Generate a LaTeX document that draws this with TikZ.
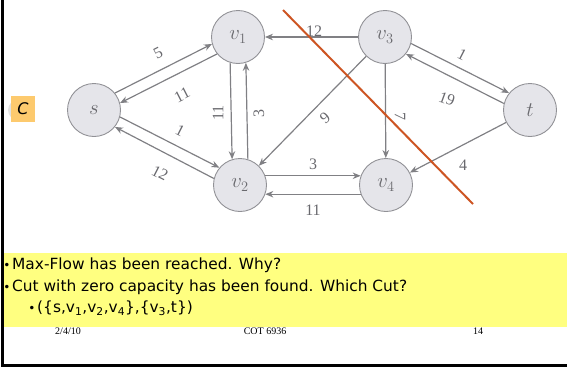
\documentclass[tikz,border=0pt]{standalone}
\usepackage{fontspec}
\setmainfont{Liberation Serif}
\newfontfamily\slidefont{DejaVu Sans}
\usetikzlibrary{arrows.meta}

\definecolor{nodefill}{RGB}{229,229,234}
\definecolor{nodeline}{RGB}{145,145,150}
\definecolor{edgegray}{RGB}{128,128,132}
\definecolor{labelgray}{RGB}{105,105,110}
\definecolor{cutred}{RGB}{205,85,35}
\definecolor{bandyellow}{RGB}{255,255,128}
\definecolor{tagorange}{RGB}{253,202,110}

\tikzset{
  vertex/.style={circle, draw=nodeline, fill=nodefill, line width=0.9pt,
    minimum size=53pt, inner sep=0pt, text=labelgray,
    font=\fontsize{20}{20}\selectfont},
  flow/.style={draw=edgegray, line width=1.2pt,
    -{Stealth[length=8pt,width=6.5pt]}},
  capnum/.style={text=labelgray, inner sep=0pt, font=\fontsize{16}{16}\selectfont},
  bodyline/.style={anchor=west, inner sep=0pt,
    font=\slidefont\fontsize{15.4}{15.4}\selectfont},
  bulletmark/.style={inner sep=0pt, font=\slidefont\fontsize{12}{12}\selectfont},
  footer/.style={inner sep=0pt, font=\fontsize{10}{10}\selectfont}
}

\begin{document}
\begin{tikzpicture}[x=1pt,y=-1pt]
\useasboundingbox (0,0) rectangle (567,367);

% slide frame
\draw[line width=3pt] (2.5,0) -- (2.5,365.5) -- (567,365.5);

% half-hidden marker behind the tag
\fill[gray!22] (18,110) circle (10);
\node[fill=tagorange, minimum width=24pt, minimum height=26pt, inner sep=0pt,
  font=\slidefont\itshape\fontsize{16}{16}\selectfont] (tag) at (23,109) {C};

% vertices
\node[vertex] (s)  at (94,110)  {$s$};
\node[vertex] (v1) at (238,37)  {$v_1$};
\node[vertex] (v2) at (240,185) {$v_2$};
\node[vertex] (v3) at (385,37)  {$v_3$};
\node[vertex] (v4) at (386,185) {$v_4$};
\node[vertex] (t)  at (530,110) {$t$};

% residual edges
\draw[flow] (s.39) -- (v1.195);
\draw[flow] (v1.219) -- (s.15);
\draw[flow] (s.-15) -- (v2.140);
\draw[flow] (v2.166) -- (s.-39);
\draw[flow] (v1.253) -- (v2.107);
\draw[flow] (v2.73) -- (v1.287);
\draw[flow] (v3) -- (v1);
\draw[flow] (v3) -- (v2);
\draw[flow] (v3) -- (v4);
\draw[flow] (v3.-14) -- (t.141);
\draw[flow] (t.166) -- (v3.-39);
\draw[flow] (t) -- (v4);
\draw[flow] (v2.20) -- (v4.160);
\draw[flow] (v4.200) -- (v2.-20);

% capacities
\node[capnum, rotate=27]  (c1)  at (158,53)  {5};
\node[capnum, rotate=27]  (c2)  at (182,95)  {11};
\node[capnum, rotate=-27] (c3)  at (180,131) {1};
\node[capnum, rotate=-27] (c4)  at (160,173) {12};
\node[capnum, rotate=90]  (c5)  at (218,113) {11};
\node[capnum, rotate=90]  (c6)  at (259,113) {3};
\node[capnum]             (c7)  at (314,31)  {12};
\node[capnum, rotate=40]  (c8)  at (325,118) {9};
\node[capnum, rotate=-90] (c9)  at (400,116) {7};
\node[capnum, rotate=-27] (c10) at (462,55)  {1};
\node[capnum, rotate=-20] (c11) at (447,99)  {19};
\node[capnum]             (c12) at (463,165) {4};
\node[capnum]             (c13) at (313,164) {3};
\node[capnum]             (c14) at (313,210) {11};

% the cut
\coordinate (cutA) at (283,10);
\coordinate (cutB) at (473,204);
\draw[cutred, line width=2pt] (cutA) -- (cutB);

% text band
\fill[bandyellow] (4,253) rectangle (567,327);
\node[bulletmark] (b1) at (7,266) {\textbullet};
\node[bodyline] (l1) at (12,265) {Max-Flow has been reached. Why?};
\node[bulletmark] (b2) at (7,288) {\textbullet};
\node[bodyline] (l2) at (12,287) {Cut with zero capacity has been found. Which Cut?};
\node[bulletmark] (b3) at (32,309) {\textbullet};
\node[bodyline] (l3) at (37,308) {(\{s,v\textsubscript{1},v\textsubscript{2},v\textsubscript{4}\},\{v\textsubscript{3},t\})};

% footer
\node[footer] (date)  at (68,331)  {2/4/10};
\node[footer] (course) at (265,331) {COT 6936};
\node[footer] (page)  at (478,331) {14};
\end{tikzpicture}
\end{document}
